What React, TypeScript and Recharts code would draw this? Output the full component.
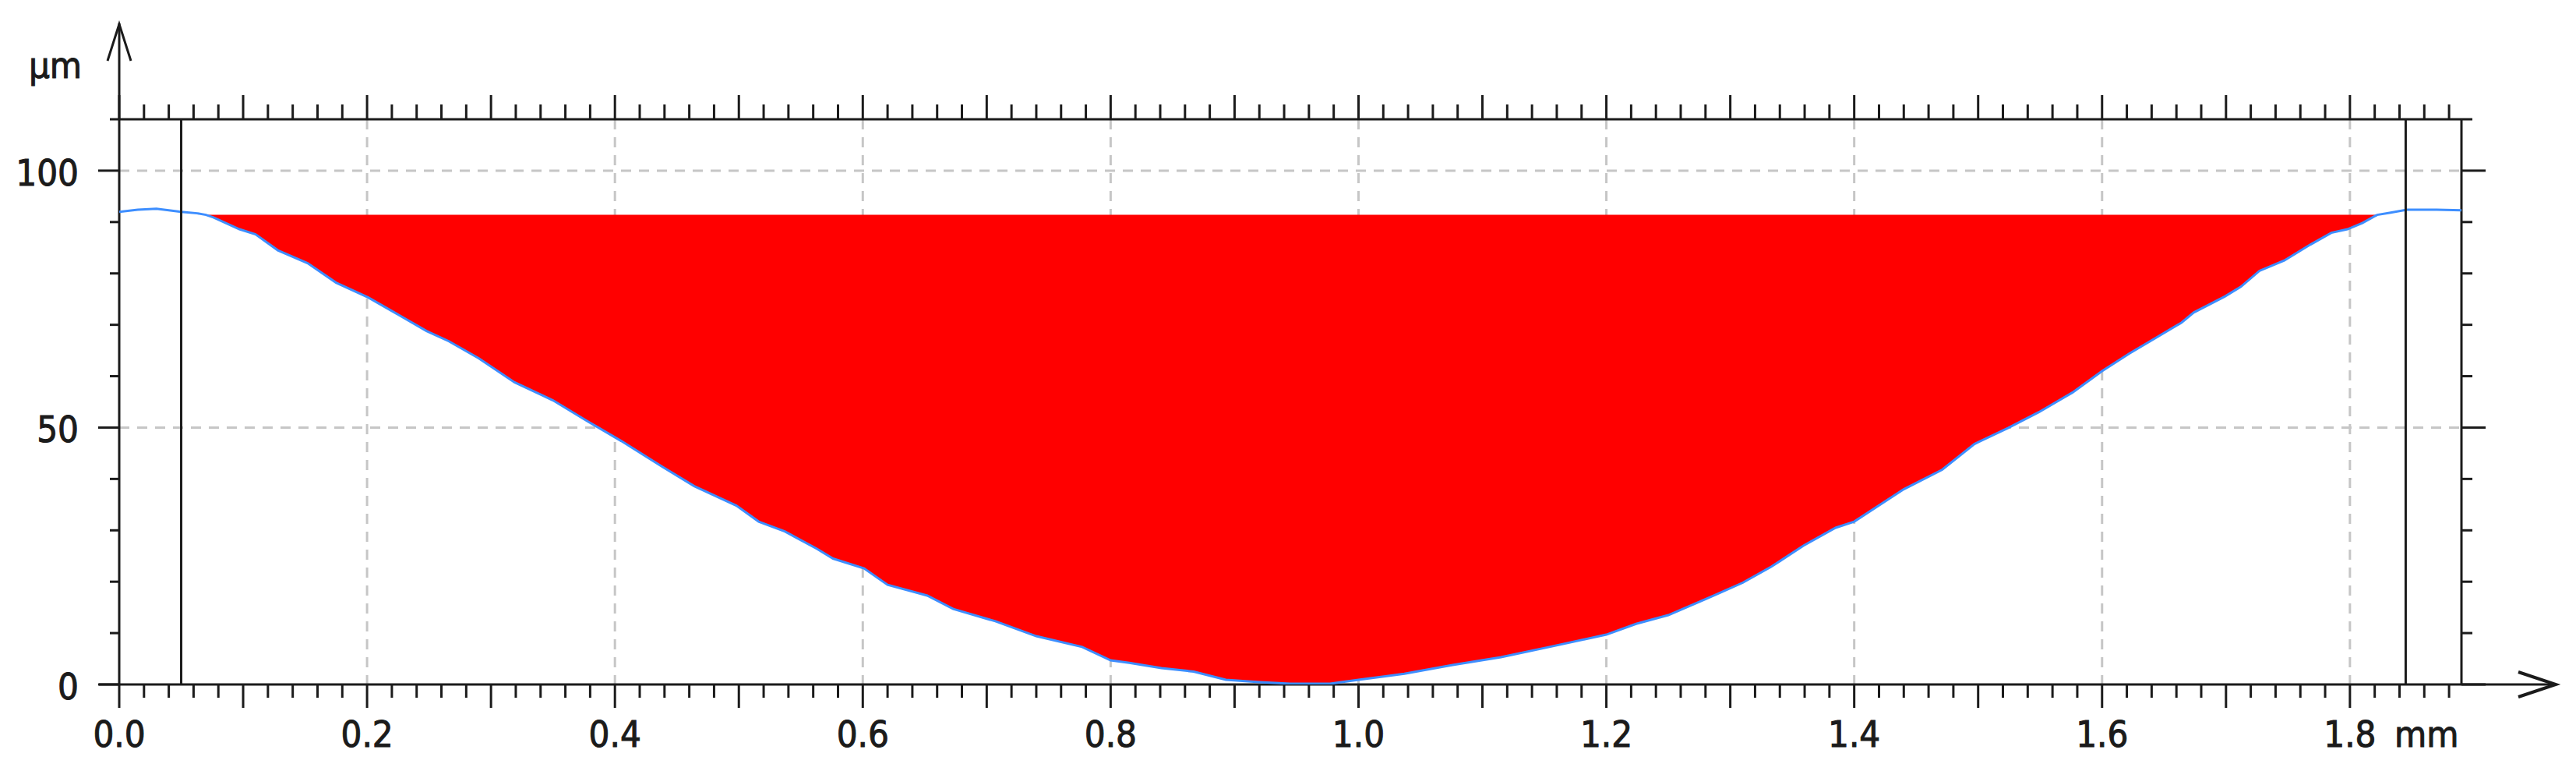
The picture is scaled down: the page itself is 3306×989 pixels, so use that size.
import {
  ComposedChart,
  Area,
  Line,
  XAxis,
  YAxis,
  CartesianGrid,
  ReferenceLine,
  Customized,
} from 'recharts'

const W = 3306
const H = 989
// plot box inside the picture
const LEFT = 153
const TOP = 153
const RIGHT = 147
const BOTTOM = 111

const INK = '#1b1b1b'
const FONT = "'DejaVu Sans Condensed', 'DejaVu Sans', sans-serif"
const FONT_SIZE = 47
// slightly heavier glyphs, like the original's ClearType text
const TEXT_STYLE = { stroke: INK, strokeWidth: 1, paintOrder: 'stroke' as const }

// profile
const positionMm = [
  0, 0.015, 0.03, 0.05, 0.063, 0.07, 0.076, 0.097, 0.11, 0.128, 0.152, 0.175,
  0.201, 0.225, 0.248, 0.266, 0.29, 0.319, 0.35, 0.378, 0.405, 0.438, 0.464,
  0.498, 0.516, 0.537, 0.563, 0.576, 0.601, 0.62, 0.652, 0.673, 0.707, 0.74,
  0.777, 0.8, 0.815, 0.841, 0.867, 0.893, 0.92, 0.945, 0.977, 1.0, 1.037,
  1.076, 1.115, 1.154, 1.2, 1.224, 1.25, 1.281, 1.31, 1.333, 1.359, 1.385, 1.4,
  1.44, 1.471, 1.497, 1.524, 1.549, 1.576, 1.6, 1.622, 1.643, 1.664, 1.674,
  1.699, 1.712, 1.727, 1.747, 1.768, 1.785, 1.798, 1.81, 1.822, 1.832, 1.846,
  1.87, 1.89,
]
const heightUm = [
  92.0, 92.4, 92.6, 92.0, 91.7, 91.4, 90.9, 88.6, 87.6, 84.5, 82.0, 78.2, 75.3,
  72.0, 68.8, 66.8, 63.5, 58.8, 55.3, 51.2, 47.4, 42.4, 38.6, 34.8, 31.7, 29.8,
  26.4, 24.5, 22.6, 19.4, 17.3, 14.7, 12.3, 9.4, 7.3, 4.7, 4.2, 3.2, 2.5, 0.9,
  0.45, 0.15, 0.15, 0.9, 2.1, 3.8, 5.3, 7.3, 9.7, 11.8, 13.5, 16.7, 19.8, 22.9,
  27.0, 30.5, 31.7, 38.0, 41.8, 46.8, 49.9, 53.0, 56.8, 61.0, 64.4, 67.4, 70.4,
  72.4, 75.5, 77.4, 80.5, 82.5, 85.6, 87.9, 88.6, 89.8, 91.4, 91.8, 92.4, 92.4,
  92.3,
]

const FILL_LEVEL = 91.4
const CURSORS_MM = [0.05, 1.845]
const X_MAX = 1.89
const Y_MAX = 110

const X_LABELS = [0, 0.2, 0.4, 0.6, 0.8, 1.0, 1.2, 1.4, 1.6, 1.8]
const Y_LABELS = [0, 50, 100]
const X_GRID = [0.2, 0.4, 0.6, 0.8, 1.0, 1.2, 1.4, 1.6, 1.8]
const Y_GRID = [50, 100]
// ruler ticks every 0.02 mm and every 10 µm
const X_TICKS = Array.from({ length: 95 }, (_, i) => (i * 2) / 100)
const Y_TICKS = Array.from({ length: 12 }, (_, i) => i * 10)

const data = positionMm.map((x, i) => ({
  x,
  h: heightUm[i],
  band: heightUm[i] <= FILL_LEVEL ? [heightUm[i], FILL_LEVEL] : null,
}))

const near = (a: number, b: number) => Math.abs(a - b) < 1e-6
const isTenth = (v: number) => near(v * 10, Math.round(v * 10))

function BottomTick({ x, y, payload }: any) {
  const v = payload.value as number
  const major = isTenth(v)
  const label = X_LABELS.some((l) => near(l, v))
  return (
    <g>
      <line x1={x} x2={x} y1={y} y2={y + (major ? 30 : 17)} stroke={INK} strokeWidth={3} />
      {label && (
        <text x={x} y={y + 80} textAnchor="middle" fill={INK} fontSize={FONT_SIZE} fontFamily={FONT} style={TEXT_STYLE}>
          {v.toFixed(1)}
        </text>
      )}
    </g>
  )
}

function TopTick({ x, y, payload }: any) {
  const major = isTenth(payload.value)
  return <line x1={x} x2={x} y1={y} y2={y - (major ? 31 : 19)} stroke={INK} strokeWidth={3} />
}

function LeftTick({ x, y, payload }: any) {
  const v = payload.value as number
  const major = Y_LABELS.includes(v)
  return (
    <g>
      <line x1={x - (major ? 27 : 12)} x2={x} y1={y} y2={y} stroke={INK} strokeWidth={3} />
      {major && (
        <text x={x - 52} y={y + 19} textAnchor="end" fill={INK} fontSize={FONT_SIZE} fontFamily={FONT} style={TEXT_STYLE}>
          {v}
        </text>
      )}
    </g>
  )
}

function RightTick({ x, y, payload }: any) {
  const major = Y_LABELS.includes(payload.value)
  return <line x1={x} x2={x + (major ? 31 : 14)} y1={y} y2={y} stroke={INK} strokeWidth={3} />
}

// frame, arrows and unit captions
function Frame() {
  const x0 = LEFT
  const x1 = W - RIGHT
  const y0 = TOP
  const y1 = H - BOTTOM
  return (
    <g stroke={INK} strokeWidth={3} fill="none">
      <line x1={x0} y1={y1} x2={x0} y2={30} />
      <polyline points={`${x0 - 15},78 ${x0},31 ${x0 + 15},78`} />
      <line x1={x0 - 26} y1={y1} x2={3280} y2={y1} />
      <polyline points={`3232,${y1 - 16} 3280,${y1} 3232,${y1 + 16}`} strokeWidth={4} />
      <line x1={x0} y1={y0} x2={x1} y2={y0} />
      <line x1={x1} y1={y0} x2={x1} y2={y1} />
      <text x={105} y={100} textAnchor="end" fill={INK} fontSize={FONT_SIZE} fontFamily={FONT} style={TEXT_STYLE}>
        µm
      </text>
      <text x={3073} y={y1 + 80} fill={INK} fontSize={FONT_SIZE} fontFamily={FONT} style={TEXT_STYLE}>
        mm
      </text>
    </g>
  )
}

export default function App() {
  return (
    <div style={{ position: 'absolute', left: 0, top: 0, width: W, height: H, background: '#fff' }}>
      <ComposedChart width={W} height={H} data={data} margin={{ top: 0, right: 0, bottom: 0, left: 0 }}>
        <CartesianGrid
          horizontalValues={Y_GRID}
          verticalValues={X_GRID}
          stroke="#c6c6c6"
          strokeWidth={3}
          strokeDasharray="13 10"
        />
        <XAxis
          dataKey="x"
          type="number"
          domain={[0, X_MAX]}
          allowDataOverflow
          ticks={X_TICKS}
          interval={0}
          height={BOTTOM}
          axisLine={false}
          tickLine={false}
          tickSize={0}
          tickMargin={0}
          tick={BottomTick}
        />
        <XAxis
          xAxisId="top"
          orientation="top"
          dataKey="x"
          type="number"
          domain={[0, X_MAX]}
          allowDataOverflow
          ticks={X_TICKS}
          interval={0}
          height={TOP}
          axisLine={false}
          tickLine={false}
          tickSize={0}
          tickMargin={0}
          tick={TopTick}
        />
        <YAxis
          type="number"
          domain={[0, Y_MAX]}
          allowDataOverflow
          ticks={Y_TICKS}
          interval={0}
          width={LEFT}
          axisLine={false}
          tickLine={false}
          tickSize={0}
          tickMargin={0}
          tick={LeftTick}
        />
        <YAxis
          yAxisId="right"
          orientation="right"
          type="number"
          domain={[0, Y_MAX]}
          allowDataOverflow
          ticks={Y_TICKS}
          interval={0}
          width={RIGHT}
          axisLine={false}
          tickLine={false}
          tickSize={0}
          tickMargin={0}
          tick={RightTick}
        />
        <Area
          dataKey="band"
          type="linear"
          fill="#ff0000"
          fillOpacity={1}
          stroke="none"
          connectNulls={false}
          isAnimationActive={false}
        />
        <Line
          dataKey="h"
          type="linear"
          stroke="#3d8eff"
          strokeWidth={3}
          dot={false}
          isAnimationActive={false}
        />
        {CURSORS_MM.map((c) => (
          <ReferenceLine key={c} x={c} stroke={INK} strokeWidth={3} />
        ))}
        <Customized component={Frame} />
      </ComposedChart>
    </div>
  )
}
